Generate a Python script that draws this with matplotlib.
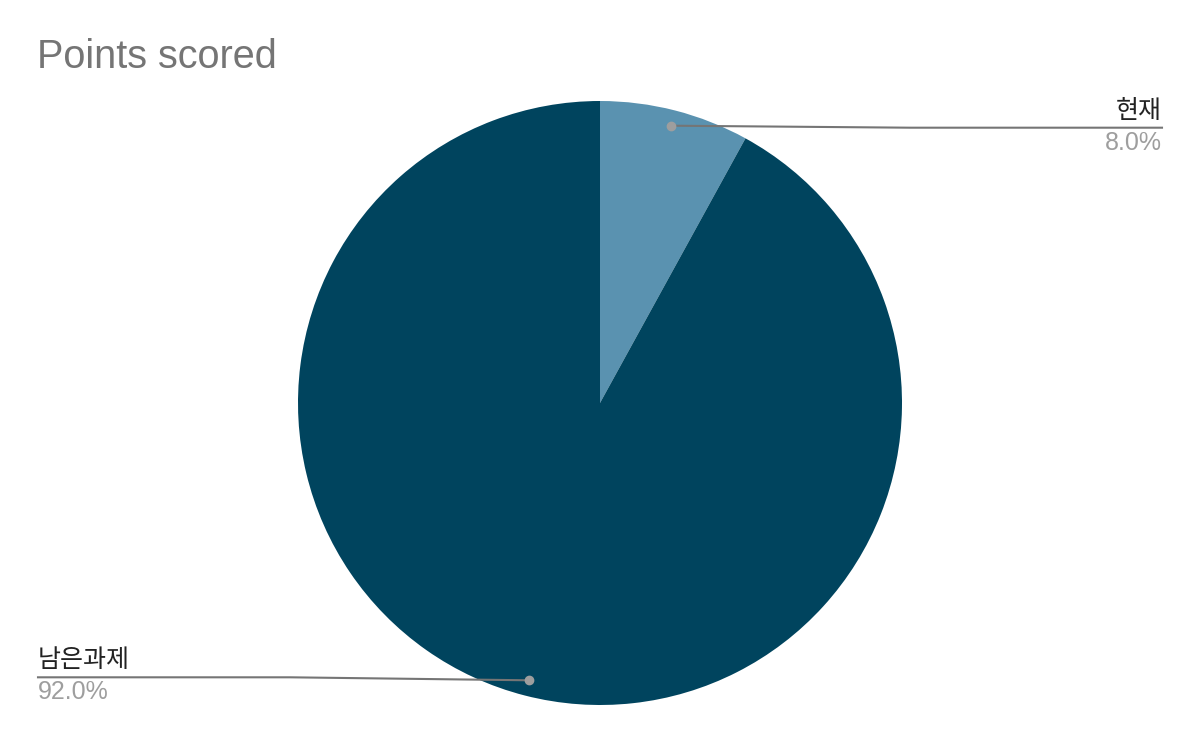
import numpy as np
import matplotlib
matplotlib.use('Agg')
import matplotlib.pyplot as plt

# data
labels = ['현재', '남은과제']
values = [8.0, 92.0]
colors = ['#5a92b0', '#00445e']

plt.rcParams['font.family'] = ['Liberation Sans', 'Noto Sans CJK KR', 'DejaVu Sans']

fig = plt.figure(figsize=(12, 7.42), dpi=100)
ax = fig.add_axes([0, 0, 1, 1])

cx, cy, r = 600, 339, 302
wedges, _ = ax.pie(values, colors=colors, startangle=90, counterclock=False,
                   center=(cx, cy), radius=r, frame=True,
                   wedgeprops=dict(linewidth=0))
ax.set_xlim(0, 1200)
ax.set_ylim(0, 742)
ax.set_aspect('equal')
ax.axis('off')

total = sum(values)
# leader lines + labels
for w, lab, v in zip(wedges, labels, values):
    mid = np.deg2rad((w.theta1 + w.theta2) / 2)
    ax_x = cx + 0.948 * r * np.cos(mid)
    ax_y = cy + 0.948 * r * np.sin(mid)
    if ax_x > cx:
        ly = ax_y - 2
        xs = [ax_x, 910, 1162]
        tx, ha = 1162, 'right'
    else:
        ly = ax_y + 3
        xs = [ax_x, 290, 38]
        tx, ha = 38, 'left'
    ax.plot(xs, [ax_y, ly, ly], color='#757575', lw=1.5, zorder=3)
    ax.plot(ax_x, ax_y, 'o', color='#9e9e9e', ms=6, zorder=4)
    ax.text(tx, ly + 4, lab, ha=ha, va='bottom', fontsize=18, color='#222222',
            family=['Noto Sans CJK KR', 'DejaVu Sans'])
    ax.text(tx, ly - 3, f'{v / total * 100:.1f}%', ha=ha, va='top',
            fontsize=18, color='#9e9e9e')

fig.text(37 / 1200, 1 - 57 / 742, 'Points scored', ha='left', va='center',
         fontsize=28.5, color='#757575')

fig.savefig('out.png', dpi=100)
